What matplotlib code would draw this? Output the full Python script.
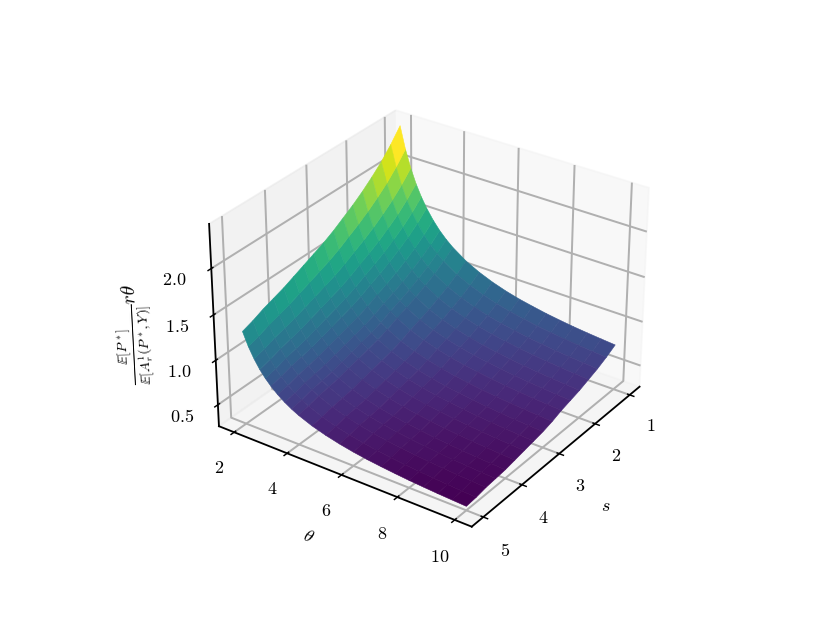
import numpy as np
import matplotlib
matplotlib.use('Agg')
import matplotlib.pyplot as plt

plt.rcParams['font.family'] = 'serif'
plt.rcParams['font.serif'] = ['cmr10', 'DejaVu Serif']
plt.rcParams['mathtext.fontset'] = 'cm'
plt.rcParams['axes.formatter.use_mathtext'] = True
plt.rcParams['grid.linewidth'] = 1.1
plt.rcParams['axes.linewidth'] = 1.0

# valores
theta = [2, 2.2, 2.4, 2.6, 2.8, 3, 3.25, 3.5, 3.75, 4, 4.5, 5, 5.5, 6, 6.5, 7, 7.5, 8, 8.5, 9, 9.5, 10]
s = [1, 1.25, 1.5, 1.75, 2, 2.25, 2.5, 2.75, 3, 3.25, 3.5, 3.75, 4, 4.25, 4.5, 4.75, 5]

# una fila por cada valor de s
z_100 = [2.36, 2.123, 1.937, 1.784, 1.66, 1.555, 1.446, 1.355, 1.28, 1.217, 1.115, 1.04, .98, .932, .893, .863, .835, .813, .793, .777, .763, .75]
z_125 = [2.22, 1.995, 1.818, 1.672, 1.554, 1.455, 1.351, 1.265, 1.193, 1.134, 1.037, .965, .909, .863, .826, .797, .771, .75, .731, .716, .702, .69]
z_150 = [2.10, 1.885, 1.716, 1.577, 1.465, 1.37, 1.271, 1.189, 1.12, 1.063, .971, .903, .849, .805, .77, .742, .717, .697, .679, .665, .652, .64]
z_175 = [2.00, 1.794, 1.632, 1.499, 1.391, 1.30, 1.205, 1.126, 1.061, 1.006, .918, .852, .80, .758, .725, .698, .674, .655, .638, .624, .611, .60]
z_200 = [1.91, 1.712, 1.555, 1.427, 1.323, 1.235, 1.143, 1.068, 1.004, .952, .866, .803, .753, .713, .68, .655, .632, .613, .596, .583, .571, .56]
z_225 = [1.83, 1.639, 1.488, 1.365, 1.265, 1.18, 1.092, 1.019, .958, .907, .825, .764, .716, .677, .646, .621, .599, .581, .565, .552, .54, .53]
z_250 = [1.76, 1.575, 1.429, 1.309, 1.212, 1.13, 1.044, .974, .915, .865, .786, .727, .68, .642, .612, .588, .567, .549, .534, .521, .51, .50]
z_275 = [1.69, 1.509, 1.367, 1.25, 1.155, 1.075, .991, .922, .865, .817, .739, .681, .636, .599, .569, .546, .525, .508, .493, .481, .47, .46]
z_300 = [1.63, 1.454, 1.314, 1.2, 1.108, 1.03, .948, .881, .825, .778, .702, .646, .602, .566, .537, .514, .494, .477, .462, .45, .44, .43]
z_325 = [1.58, 1.408, 1.272, 1.161, 1.071, .995, .915, .85, .795, .749, .676, .621, .577, .542, .514, .492, .472, .456, .442, .43, .419, .41]
z_350 = [1.53, 1.362, 1.23, 1.122, 1.034, .96, .882, .819, .765, .721, .649, .595, .553, .519, .491, .47, .45, .434, .421, .409, .399, .39]
z_375 = [1.48, 1.317, 1.188, 1.083, .997, .925, .85, .787, .735, .692, .622, .57, .529, .495, .469, .448, .429, .413, .40, .389, .379, .37]
z_400 = [1.43, 1.271, 1.146, 1.043, .96, .89, .817, .756, .705, .663, .595, .544, .504, .472, .446, .426, .407, .392, .379, .368, .359, .35]
z_425 = [1.39, 1.236, 1.114, 1.014, .933, .865, .794, .735, .685, .645, .578, .529, .49, .459, .433, .414, .396, .381, .368, .358, .348, .34]
z_450 = [1.35, 1.20, 1.082, .985, .906, .84, .771, .714, .666, .626, .562, .514, .476, .445, .421, .401, .384, .37, .358, .347, .338, .33]
z_475 = [1.30, 1.154, 1.04, .946, .869, .805, .738, .682, .636, .597, .535, .488, .452, .422, .398, .379, .362, .349, .337, .327, .318, .31]
z_500 = [1.26, 1.119, 1.008, .916, .842, .78, .715, .661, .616, .578, .518, .473, .437, .408, .385, .367, .351, .337, .326, .316, .308, .30]

T, S = np.meshgrid(theta, s)
Z = np.array([z_100, z_125, z_150, z_175, z_200, z_225, z_250, z_275, z_300,
              z_325, z_350, z_375, z_400, z_425, z_450, z_475, z_500])
# ajuste de la lectura contra las marcas del eje z
Z = 1.033 * Z - 0.01

fig = plt.figure(figsize=(830 / 130, 623 / 130), dpi=130)
ax = fig.add_subplot(projection='3d')
surf = ax.plot_surface(S, T, Z, cmap='viridis', linewidth=0.3, rstride=1, cstride=1)
ax.view_init(elev=30, azim=35)
surf.set_edgecolor('face')

ax.set_xticks([1, 2, 3, 4, 5])
ax.set_yticks([2, 4, 6, 8, 10])
ax.set_zticks([0.5, 1.0, 1.5, 2.0])
ax.set_xlabel(r'$s$')
ax.set_ylabel(r'$\theta$')
ax.zaxis.set_rotate_label(False)
ax.set_zlabel(r'$\frac{\mathbb{E}[P^*]}{\mathbb{E}[A_r^1(P^*,Y)]}r\theta$', rotation=93, fontsize=11)

fig.savefig('out.png', dpi=130)
